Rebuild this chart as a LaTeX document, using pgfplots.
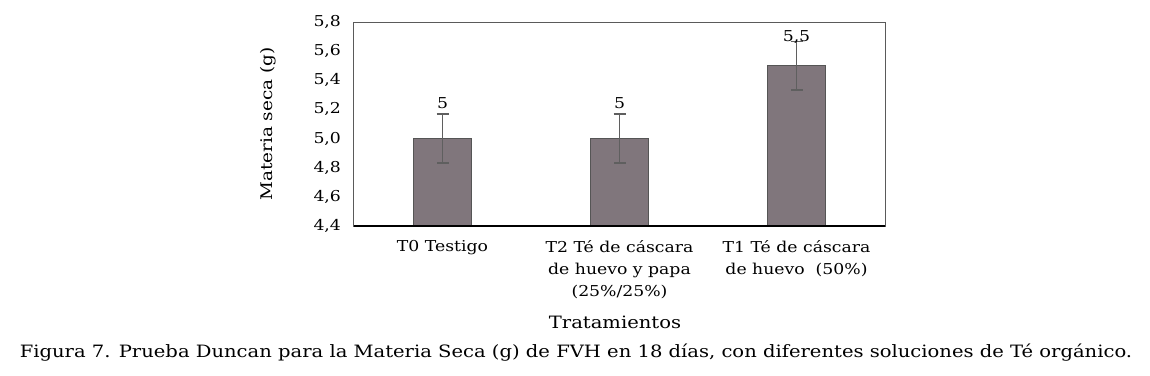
\documentclass[border=0pt]{standalone}
\usepackage{pgfplots}
\pgfplotsset{compat=1.18}
\usepackage{fontspec}
\setmainfont[FakeStretch=1.15]{DejaVu Serif}
\definecolor{barfill}{RGB}{128,118,124}
\definecolor{bardraw}{RGB}{85,85,85}
\definecolor{errc}{RGB}{95,95,95}
\definecolor{frame}{RGB}{90,90,90}
\begin{document}
\begin{tikzpicture}
\useasboundingbox (-177pt,-74.5pt) rectangle (398pt,113pt);
\begin{axis}[
  at={(0,0)}, anchor=south west,
  scale only axis, width=265.5pt, height=102pt,
  xmin=-0.5, xmax=2.5, ymin=4.4, ymax=5.8,
  ytick={4.4,4.6,...,5.81},
  xtick={0,1,2},
  xticklabels={T0 Testigo, T2 Té de cáscara\\de huevo y papa\\(25\%/25\%), T1 Té de cáscara\\de huevo\ \ (50\%)},
  x tick label style={align=center, font=\fontsize{7.5}{11}\selectfont, yshift=-3.5pt},
  y tick label style={font=\fontsize{7.5}{9}\selectfont, xshift=-3pt},
  major tick length=0pt,
  /pgf/number format/.cd, use comma, fixed, fixed zerofill, precision=1, assume math mode=true,
  /pgfplots/.cd,
  axis line style={frame, line width=0.5pt},
  ylabel={Materia seca (g)},
  ylabel style={font=\fontsize{8}{10}\selectfont, at={(axis description cs:0,0.5)}, yshift=43pt, anchor=center},
  clip=false,
]
\addplot[ybar, bar width=28.8pt, fill=barfill, draw=bardraw, line width=0.5pt,
  error bars/.cd, y dir=both, y explicit,
  error bar style={errc, line width=0.6pt},
  error mark options={errc, line width=0.6pt, mark size=3pt, rotate=90}]
  coordinates {(0,5.0) +- (0,0.168) (1,5.0) +- (0,0.168) (2,5.5) +- (0,0.166)};
\addplot[draw=none, mark=none, nodes near coords, point meta=explicit symbolic,
  nodes near coords style={anchor=center, font=\fontsize{7.5}{9}\selectfont, inner sep=0pt}]
  coordinates {(0,5.246)[5] (1,5.246)[5] (2,5.699)[5,5]};
\draw[black, line width=1pt] (rel axis cs:0,0) -- (rel axis cs:1,0);
\end{axis}
\node[font=\fontsize{8.5}{10}\selectfont] at (130.5pt,-48pt) {Tratamientos};
\node[font=\fontsize{8.5}{10}\selectfont] at (111pt,-63.5pt) {Figura 7. Prueba Duncan para la Materia Seca (g) de FVH en 18 días, con diferentes soluciones de Té orgánico.};
\end{tikzpicture}
\end{document}
